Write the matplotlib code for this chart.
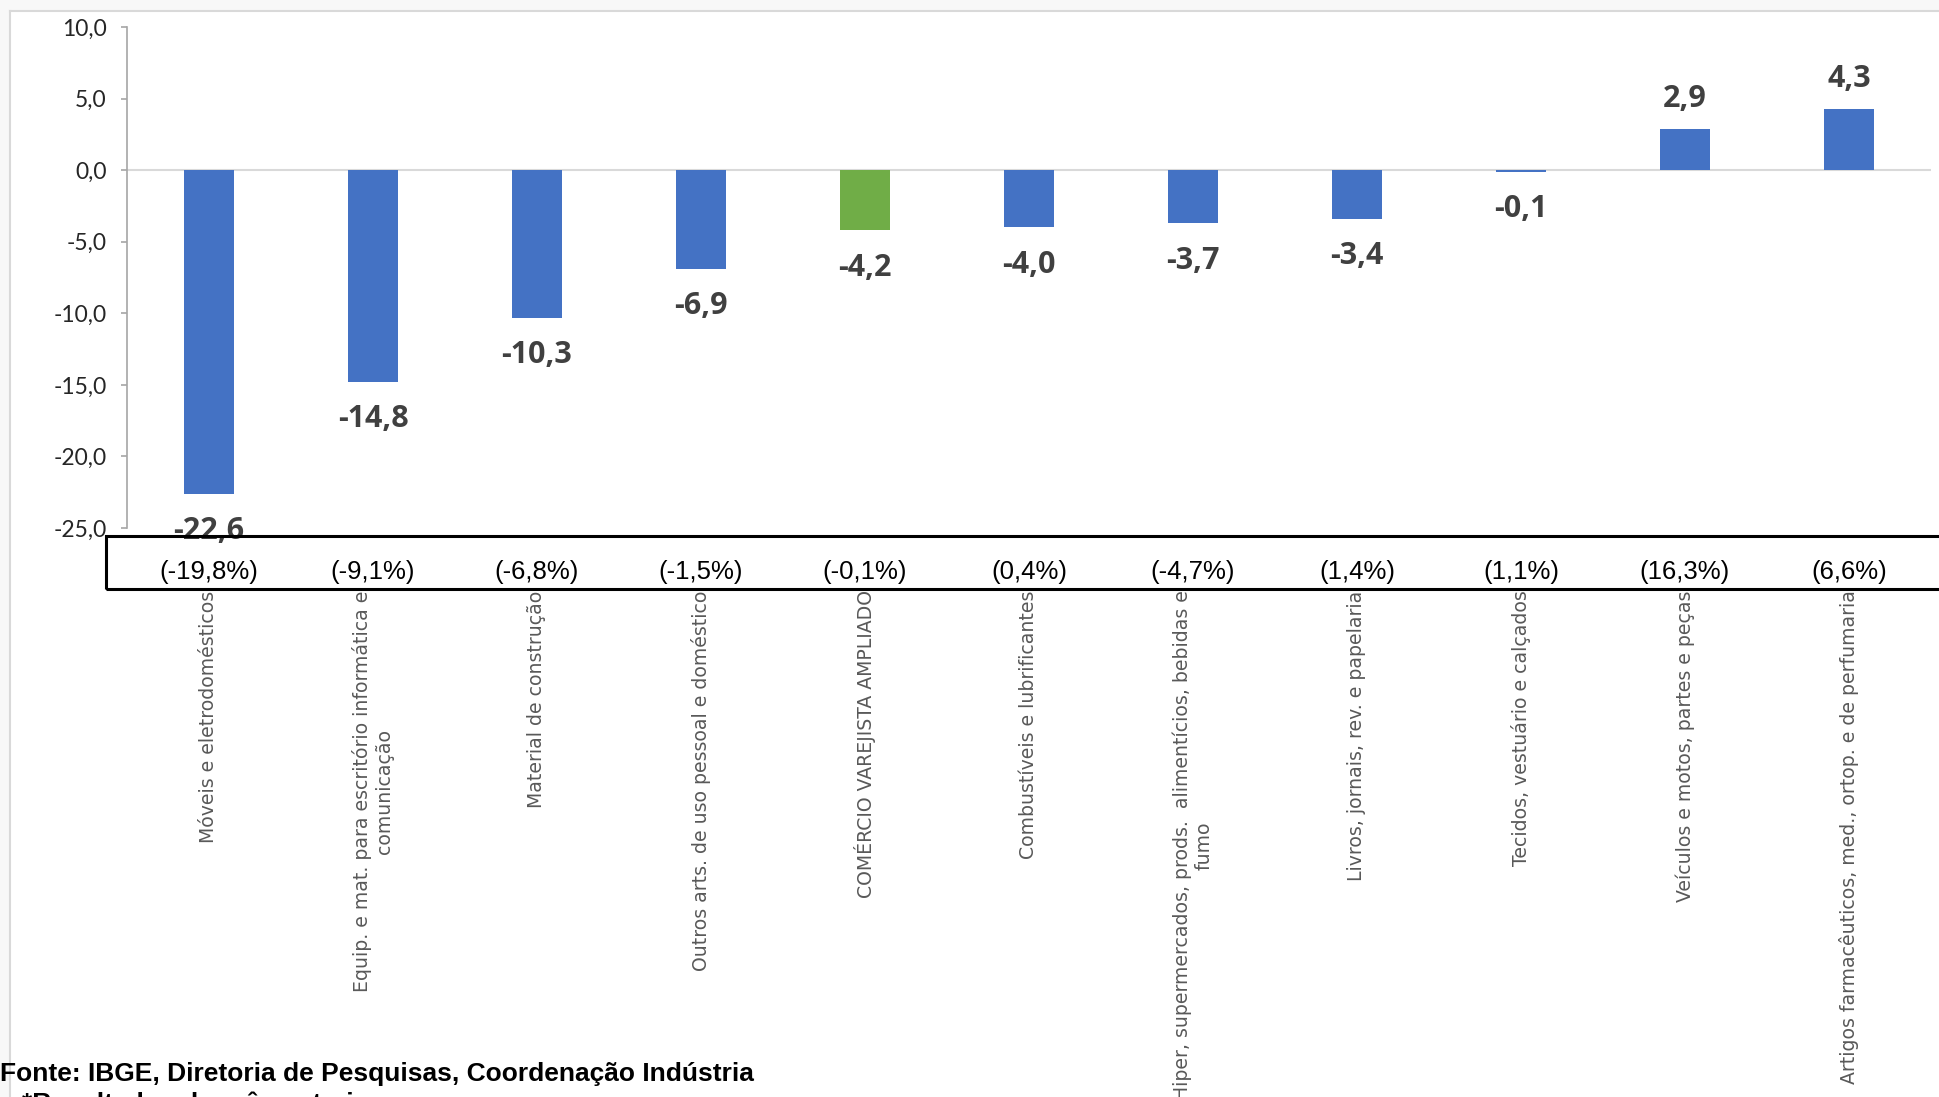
import matplotlib
matplotlib.use('Agg')
import matplotlib.pyplot as plt
from matplotlib.patches import Rectangle
from matplotlib.lines import Line2D
from matplotlib.transforms import blended_transform_factory

# variação mensal por atividade do comércio varejista ampliado
categorias = [
    'Móveis e eletrodomésticos',
    'Equip. e mat. para escritório informática e\ncomunicação',
    'Material de construção',
    'Outros arts. de uso pessoal e doméstico',
    'COMÉRCIO VAREJISTA AMPLIADO',
    'Combustíveis e lubrificantes',
    'Hiper, supermercados, prods.  alimentícios, bebidas e\nfumo',
    'Livros, jornais, rev. e papelaria',
    'Tecidos, vestuário e calçados',
    'Veículos e motos, partes e peças',
    'Artigos farmacêuticos, med., ortop. e de perfumaria',
]
valores = [-22.6, -14.8, -10.3, -6.9, -4.2, -4.0, -3.7, -3.4, -0.1, 2.9, 4.3]
percentuais = ['(-19,8%)', '(-9,1%)', '(-6,8%)', '(-1,5%)', '(-0,1%)', '(0,4%)',
               '(-4,7%)', '(1,4%)', '(1,1%)', '(16,3%)', '(6,6%)']
destaque = 'COMÉRCIO VAREJISTA AMPLIADO'
y_ticks = [10, 5, 0, -5, -10, -15, -20, -25]

AZUL = '#4472C4'
VERDE = '#70AD47'

fig = plt.figure(figsize=(19.4, 10.97), dpi=100)
fig.patch.set_facecolor('white')

# moldura cinza clara (canto superior esquerdo)
fig.patches.append(Rectangle((0, 1 - 11 / 1097), 1, 11 / 1097, transform=fig.transFigure,
                             facecolor='#f8f8f8', edgecolor='none', zorder=0))
fig.patches.append(Rectangle((0, 0), 10 / 1940, 1, transform=fig.transFigure,
                             facecolor='#f8f8f8', edgecolor='none', zorder=0))
fig.lines.append(Line2D([10 / 1940, 1], [1 - 11 / 1097] * 2, transform=fig.transFigure,
                        color='#d9d9d9', lw=1.5))
fig.lines.append(Line2D([10 / 1940] * 2, [0, 1 - 11 / 1097], transform=fig.transFigure,
                        color='#d9d9d9', lw=1.5))

ax = fig.add_axes([127 / 1940, 1 - 528 / 1097, 1804 / 1940, 501 / 1097])
ax.set_facecolor('none')

x = list(range(len(categorias)))
cores = [VERDE if c == destaque else AZUL for c in categorias]
ax.bar(x, valores, width=0.30, color=cores, zorder=2)
ax.axhline(0, color='#d9d9d9', lw=1.5, zorder=1)

ax.set_xlim(-0.5, len(categorias) - 0.5)
ax.set_ylim(-25, 10)
ax.set_yticks(y_ticks)
ax.set_yticklabels([f'{v:.1f}'.replace('.', ',') for v in y_ticks],
                   fontfamily='Lato', fontsize=16.5, color='#262626')
ax.tick_params(axis='y', direction='out', length=4.5, width=1.2, color='#a6a6a6', pad=10)

for s in ['top', 'right', 'bottom']:
    ax.spines[s].set_visible(False)
ax.spines['left'].set_color('#a6a6a6')
ax.spines['left'].set_linewidth(1.2)

ax.set_xticks(x)
ax.set_xticklabels(categorias, rotation=90, va='top', ha='center', multialignment='center',
                   fontfamily='DejaVu Sans', fontsize=13.6, color='#595959')
ax.tick_params(axis='x', length=0, pad=45)

# rótulos de valor
for xi, v in zip(x, valores):
    off = 21 if v >= 0 else -27
    ax.annotate(f'{v:.1f}'.replace('.', ','), (xi, v), xytext=(0, off), textcoords='offset points',
                ha='center', va='center', fontfamily='Open Sans', fontweight='bold', fontsize=22,
                color='#404040', annotation_clip=False, zorder=5)

# caixa com variações percentuais
fig.patches.append(Rectangle((106 / 1940, 1 - 589 / 1097), 1.0, 53 / 1097, transform=fig.transFigure,
                             facecolor='none', edgecolor='black', lw=2.2, zorder=3))
tr = blended_transform_factory(ax.transData, fig.transFigure)
for xi, p in zip(x, percentuais):
    ax.text(xi, 1 - 572 / 1097, p, transform=tr, ha='center', va='center',
            family='Liberation Sans', fontsize=18.5, color='black', clip_on=False)

fig.text(0.0, 1 - 1074 / 1097, 'Fonte: IBGE, Diretoria de Pesquisas, Coordenação Indústria',
         ha='left', va='center', fontfamily='Liberation Sans', fontweight='bold', fontsize=19)
fig.text(22 / 1940, 1 - 1092 / 1097, '*Resultados do mês anterior',
         ha='left', va='top', fontfamily='Liberation Sans', fontweight='bold', fontsize=19)

fig.savefig('out.png', dpi=100)
